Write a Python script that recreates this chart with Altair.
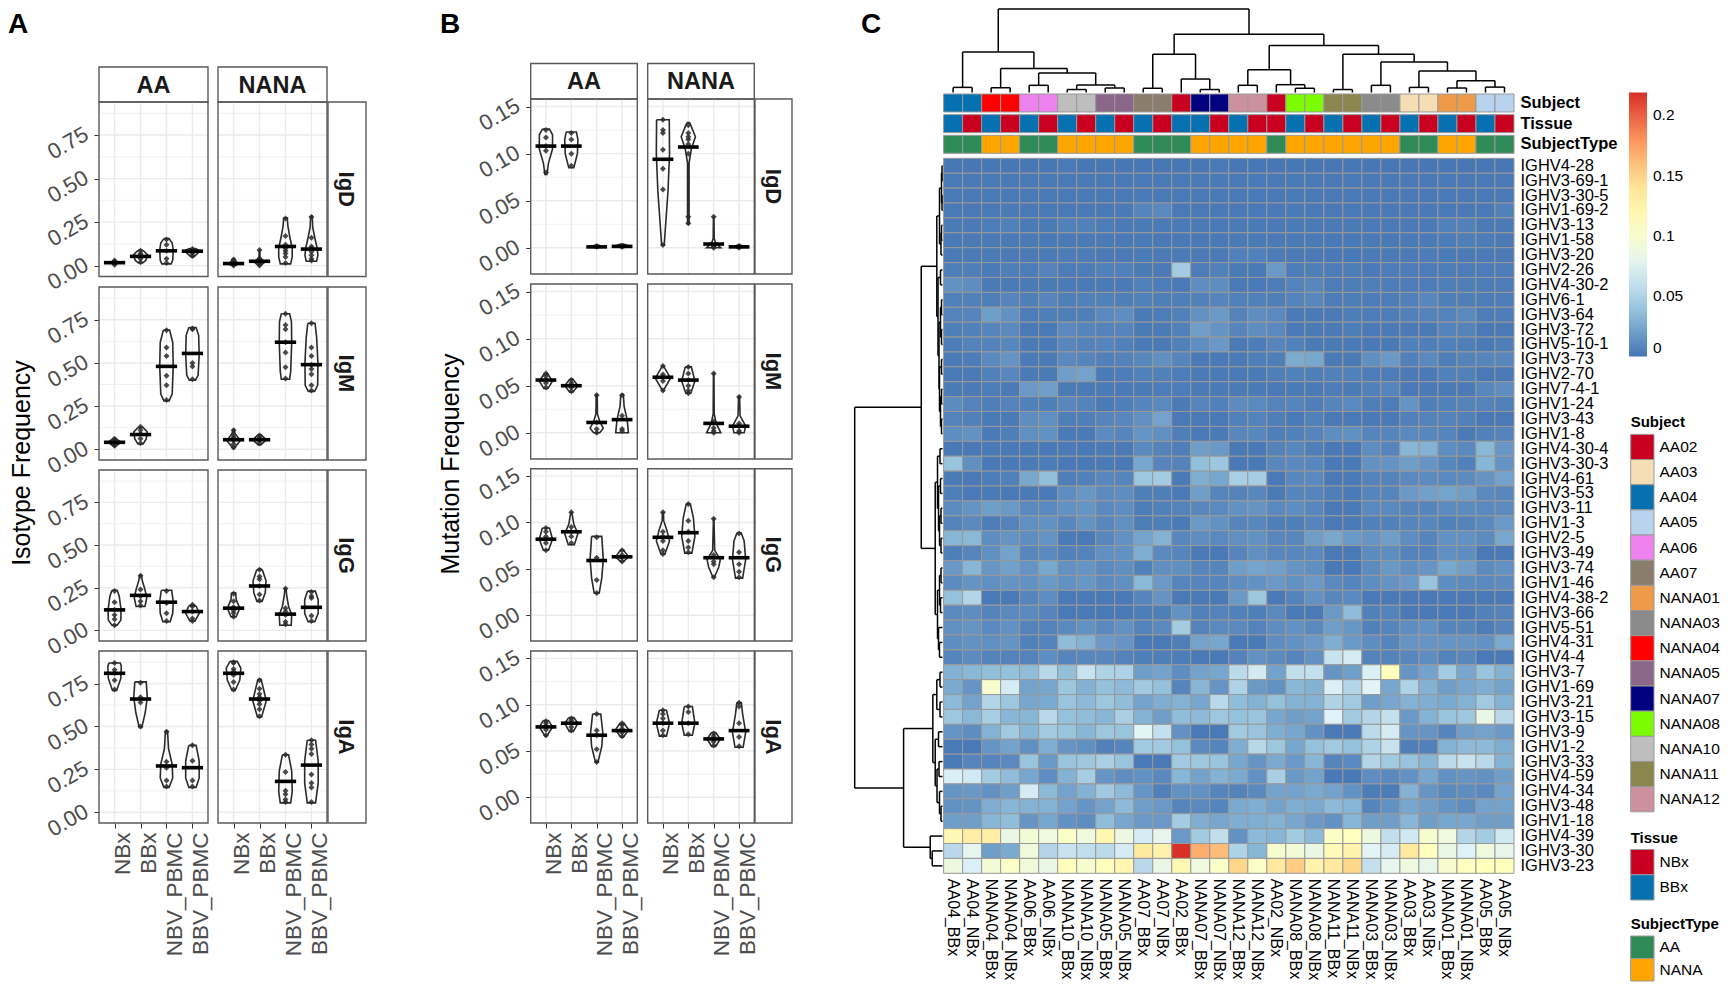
import altair as alt
import pandas as pd

W, H = 1714, 974
FONT = "Liberation Sans"
CATS = ["NBx", "BBx", "NBV_PBMC", "BBV_PBMC"]

# violins: (median, dots, outline as (value, half width))
A_AA_IgD = [
    (.017, [.005, .015, .02, .03], [(.003, 0), (.017, .14), (.032, 0)]),
    (.053, [.02, .04, .06, .07, .085], [(.015, .08), (.03, .2), (.06, .28), (.08, .15), (.09, .05)]),
    (.085, [.015, .04, .085, .12, .15], [(.01, .18), (.03, .24), (.09, .26), (.13, .22), (.155, .1)]),
    (.083, [.055, .07, .08, .09, .095], [(.05, .05), (.07, .2), (.085, .28), (.098, .12)]),
]
A_NANA_IgD = [
    (.012, [0, .005, .01, .02, .035], [(0, .02), (.01, .24), (.02, .12), (.04, .03)]),
    (.025, [0, .01, .02, .03, .035, .09], [(0, .03), (.02, .2), (.035, .1), (.05, .02), (.09, .01)]),
    (.11, [.015, .05, .07, .085, .1, .12, .17, .27], [(.01, .2), (.05, .26), (.1, .26), (.17, .16), (.23, .09), (.275, .07)]),
    (.095, [.03, .04, .06, .08, .1, .11, .16, .28], [(.025, .2), (.06, .25), (.1, .22), (.16, .13), (.22, .05), (.285, .03)]),
]
A_AA_IgM = [
    (.04, [.02, .03, .04, .05, .06], [(.015, .02), (.04, .25), (.065, .02)]),
    (.085, [.035, .06, .09, .11, .13], [(.03, .1), (.06, .22), (.1, .26), (.125, .1)]),
    (.48, [.285, .37, .425, .54, .59, .69], [(.28, .1), (.32, .22), (.48, .26), (.62, .24), (.69, .12)]),
    (.555, [.405, .48, .5, .695, .7], [(.4, .12), (.43, .22), (.55, .26), (.66, .24), (.705, .14)]),
]
A_NANA_IgM = [
    (.055, [.01, .03, .05, .06, .07, .085, .11], [(.005, .02), (.05, .26), (.09, .06), (.115, .02)]),
    (.055, [.035, .05, .06, .07, .08], [(.025, .05), (.055, .26), (.085, .05)]),
    (.62, [.41, .475, .56, .62, .695, .72, .785], [(.405, .16), (.45, .2), (.62, .24), (.74, .23), (.785, .16)]),
    (.49, [.34, .37, .435, .465, .49, .54, .59, .73], [(.335, .12), (.37, .24), (.5, .25), (.65, .2), (.73, .14)]),
]
A_AA_IgG = [
    (.12, [.03, .065, .09, .12, .165, .23], [(.03, .1), (.06, .24), (.12, .25), (.2, .18), (.235, .1)]),
    (.205, [.145, .17, .2, .24, .32], [(.14, .17), (.19, .24), (.24, .17), (.29, .07), (.325, .03)]),
    (.165, [.055, .1, .16, .23], [(.05, .14), (.1, .24), (.17, .26), (.235, .2)]),
    (.11, [.055, .07, .11, .14, .15], [(.055, .1), (.1, .26), (.14, .15), (.15, .05)]),
]
A_NANA_IgG = [
    (.13, [.08, .1, .115, .135, .17, .215], [(.08, .1), (.13, .24), (.18, .1), (.22, .08)]),
    (.26, [.175, .21, .26, .3, .315, .355], [(.17, .1), (.22, .22), (.29, .25), (.35, .12), (.36, .06)]),
    (.095, [.035, .05, .09, .11, .13, .245], [(.03, .22), (.09, .24), (.14, .12), (.2, .05), (.245, .02)]),
    (.135, [.055, .085, .19, .2, .225], [(.05, .13), (.1, .26), (.18, .26), (.23, .15)]),
]
A_AA_IgA = [
    (.81, [.715, .77, .81, .83, .87], [(.71, .08), (.78, .24), (.85, .26), (.87, .22)]),
    (.66, [.5, .64, .67, .755], [(.495, .05), (.58, .18), (.67, .26), (.76, .22)]),
    (.27, [.15, .185, .26, .295, .47], [(.145, .1), (.2, .24), (.28, .22), (.37, .08), (.475, .04)]),
    (.26, [.15, .185, .3, .39], [(.145, .14), (.2, .26), (.3, .26), (.39, .14)]),
]
A_NANA_IgA = [
    (.81, [.715, .76, .8, .82, .835, .87, .875], [(.71, .06), (.77, .24), (.84, .28), (.88, .14)]),
    (.66, [.56, .6, .63, .65, .67, .69, .72, .77], [(.555, .08), (.65, .26), (.72, .15), (.775, .06)]),
    (.18, [.06, .075, .105, .125, .235, .335], [(.055, .2), (.12, .26), (.24, .24), (.335, .12)]),
    (.275, [.06, .145, .17, .22, .34, .37, .395, .42], [(.055, .16), (.17, .26), (.3, .26), (.42, .16)]),
]
B_AA_IgD = [
    (.108, [.08, .103, .108, .117, .125], [(.078, .04), (.09, .1), (.105, .26), (.12, .26), (.126, .14)]),
    (.108, [.087, .1, .115, .122], [(.085, .1), (.1, .24), (.115, .26), (.123, .2)]),
    (.001, [.001, .002], [(0, .05), (.001, .28), (.003, .05)]),
    (.0015, [.001, .002], [(0, .05), (.002, .28), (.004, .05)]),
]
B_NANA_IgD = [
    (.094, [.003, .062, .084, .104, .122, .125, .136], [(.003, .05), (.06, .2), (.1, .26), (.136, .25)]),
    (.107, [.026, .033, .1, .11, .115, .118, .122, .13], [(.025, .03), (.09, .03), (.105, .12), (.118, .28), (.13, .1), (.133, .05)]),
    (.004, [0, .001, .002, .033], [(0, .28), (.005, .08), (.01, .02), (.033, .01)]),
    (.001, [0, .001, .002], [(0, .05), (.001, .28), (.003, .04)]),
]
B_AA_IgM = [
    (.056, [.048, .053, .056, .06, .063], [(.047, .08), (.055, .26), (.063, .06)]),
    (.05, [.044, .048, .05, .053, .056], [(.043, .06), (.05, .26), (.057, .06)]),
    (.011, [0, .004, .011, .04], [(0, .12), (.005, .26), (.012, .12), (.02, .03), (.041, .02)]),
    (.014, [.002, .004, .018, .04], [(0, .25), (.014, .2), (.028, .08), (.041, .05)]),
]
B_NANA_IgM = [
    (.059, [.045, .055, .059, .062, .071], [(.045, .02), (.058, .3), (.071, .02)]),
    (.056, [.042, .045, .05, .056, .063, .07], [(.042, .1), (.055, .26), (.07, .12)]),
    (.01, [0, .002, .005, .012, .063], [(0, .28), (.01, .1), (.02, .02), (.063, .01)]),
    (.007, [0, .002, .007, .01, .038], [(0, .2), (.007, .26), (.018, .04), (.039, .02)]),
]
B_AA_IgG = [
    (.082, [.07, .078, .085, .09, .094], [(.07, .1), (.082, .26), (.094, .14)]),
    (.09, [.078, .085, .09, .095, .111], [(.076, .12), (.088, .26), (.098, .1), (.111, .02)]),
    (.059, [.024, .038, .062, .084], [(.024, .1), (.04, .2), (.06, .26), (.085, .2)]),
    (.063, [.058, .062, .065, .07], [(.058, .06), (.063, .26), (.07, .06)]),
]
B_NANA_IgG = [
    (.084, [.066, .07, .08, .085, .09, .111], [(.066, .08), (.08, .26), (.092, .15), (.102, .03), (.111, .02)]),
    (.089, [.068, .073, .08, .09, .102, .12], [(.067, .14), (.085, .26), (.105, .2), (.12, .08)]),
    (.062, [.041, .055, .058, .065, .104], [(.041, .03), (.052, .2), (.06, .26), (.07, .04), (.104, .01)]),
    (.062, [.041, .047, .055, .068, .088], [(.04, .14), (.06, .26), (.08, .2), (.089, .08)]),
]
B_AA_IgA = [
    (.076, [.067, .073, .077, .08, .082], [(.066, .03), (.076, .26), (.083, .1)]),
    (.08, [.072, .076, .08, .083, .085], [(.071, .08), (.08, .26), (.086, .1)]),
    (.067, [.038, .052, .067, .072, .09], [(.038, .05), (.055, .2), (.07, .24), (.09, .16)]),
    (.072, [.066, .07, .074, .078, .08], [(.065, .05), (.073, .26), (.08, .08)]),
]
B_NANA_IgA = [
    (.08, [.067, .072, .08, .085, .09, .094], [(.066, .14), (.08, .26), (.094, .14)]),
    (.08, [.068, .08, .092, .098], [(.067, .16), (.08, .26), (.098, .16)]),
    (.063, [.056, .06, .063, .066, .069], [(.055, .08), (.063, .26), (.07, .08)]),
    (.072, [.055, .065, .08, .098, .102], [(.054, .16), (.07, .26), (.09, .14), (.102, .09)]),
]

SAMPLES = ["AA04_BBx", "AA04_NBx", "NANA04_BBx", "NANA04_NBx", "AA06_BBx", "AA06_NBx", "NANA10_BBx", "NANA10_NBx",
           "NANA05_BBx", "NANA05_NBx", "AA07_BBx", "AA07_NBx", "AA02_BBx", "NANA07_BBx", "NANA07_NBx", "NANA12_BBx",
           "NANA12_NBx", "AA02_NBx", "NANA08_BBx", "NANA08_NBx", "NANA11_BBx", "NANA11_NBx", "NANA03_BBx", "NANA03_NBx",
           "AA03_BBx", "AA03_NBx", "NANA01_BBx", "NANA01_NBx", "AA05_BBx", "AA05_NBx"]
GENES = ["IGHV4-28", "IGHV3-69-1", "IGHV3-30-5", "IGHV1-69-2", "IGHV3-13", "IGHV1-58", "IGHV3-20", "IGHV2-26",
         "IGHV4-30-2", "IGHV6-1", "IGHV3-64", "IGHV3-72", "IGHV5-10-1", "IGHV3-73", "IGHV2-70", "IGHV7-4-1",
         "IGHV1-24", "IGHV3-43", "IGHV1-8", "IGHV4-30-4", "IGHV3-30-3", "IGHV4-61", "IGHV3-53", "IGHV3-11",
         "IGHV1-3", "IGHV2-5", "IGHV3-49", "IGHV3-74", "IGHV1-46", "IGHV4-38-2", "IGHV3-66", "IGHV5-51",
         "IGHV4-31", "IGHV4-4", "IGHV3-7", "IGHV1-69", "IGHV3-21", "IGHV3-15", "IGHV3-9", "IGHV1-2",
         "IGHV3-33", "IGHV4-59", "IGHV4-34", "IGHV3-48", "IGHV1-18", "IGHV4-39", "IGHV3-30", "IGHV3-23"]

# frequencies x 1000, one row per gene
HEAT = [
    [1, 1, 1, 1, 1, 1, 2, 1, 1, 1, 1, 1, 1, 1, 2, 1, 1, 1, 1, 1, 1, 1, 1, 1, 1, 1, 1, 1, 1, 1],
    [2, 2, 2, 2, 2, 2, 2, 2, 2, 2, 2, 2, 2, 2, 3, 2, 2, 2, 2, 2, 2, 2, 2, 2, 2, 2, 2, 2, 2, 2],
    [2, 2, 2, 2, 2, 2, 2, 2, 2, 2, 2, 2, 2, 2, 2, 2, 2, 2, 2, 2, 2, 2, 2, 2, 2, 2, 2, 2, 2, 2],
    [2, 2, 2, 3, 2, 2, 2, 2, 2, 3, 8, 10, 2, 2, 2, 2, 2, 2, 3, 2, 2, 2, 2, 2, 2, 2, 2, 2, 2, 6],
    [3, 3, 4, 6, 3, 3, 6, 6, 4, 3, 3, 3, 3, 3, 2, 3, 3, 3, 3, 3, 3, 3, 3, 3, 3, 3, 6, 6, 3, 3],
    [2, 3, 3, 3, 3, 2, 3, 3, 3, 3, 3, 2, 2, 2, 2, 3, 3, 3, 3, 3, 2, 2, 3, 2, 3, 3, 4, 5, 4, 3],
    [3, 3, 3, 3, 3, 3, 4, 4, 3, 3, 3, 3, 3, 3, 3, 6, 6, 4, 3, 3, 2, 2, 3, 3, 3, 4, 3, 3, 3, 3],
    [5, 5, 3, 5, 4, 7, 4, 4, 6, 6, 3, 3, 45, 4, 6, 3, 3, 18, 4, 5, 4, 4, 3, 4, 4, 4, 4, 4, 4, 4],
    [14, 12, 3, 3, 3, 3, 3, 3, 3, 3, 6, 4, 2, 12, 12, 2, 2, 4, 7, 9, 4, 4, 5, 4, 4, 4, 5, 5, 4, 4],
    [6, 6, 5, 8, 5, 8, 5, 6, 6, 5, 6, 5, 5, 6, 8, 6, 6, 5, 7, 9, 4, 4, 4, 4, 6, 9, 5, 5, 4, 4],
    [7, 8, 20, 14, 4, 5, 5, 5, 10, 12, 3, 4, 6, 14, 18, 7, 12, 10, 3, 3, 3, 4, 4, 4, 6, 7, 7, 10, 4, 4],
    [5, 6, 8, 10, 2, 2, 10, 8, 7, 8, 3, 3, 6, 20, 15, 8, 12, 10, 2, 3, 3, 4, 3, 3, 3, 3, 7, 7, 2, 2],
    [4, 7, 7, 9, 3, 3, 9, 7, 8, 6, 3, 3, 6, 12, 18, 3, 4, 8, 6, 3, 3, 3, 2, 2, 6, 5, 6, 5, 3, 5],
    [3, 4, 10, 15, 3, 3, 10, 8, 6, 7, 9, 13, 8, 2, 2, 3, 5, 5, 27, 25, 3, 3, 13, 18, 6, 10, 5, 7, 8, 9],
    [2, 3, 6, 9, 3, 3, 20, 22, 3, 4, 6, 6, 4, 3, 3, 2, 3, 5, 6, 5, 6, 6, 4, 4, 3, 3, 6, 6, 2, 2],
    [3, 3, 4, 3, 18, 20, 3, 3, 3, 3, 3, 4, 4, 3, 3, 3, 3, 2, 3, 3, 4, 3, 6, 8, 2, 3, 3, 3, 9, 12],
    [11, 7, 5, 7, 6, 5, 9, 7, 3, 5, 8, 10, 3, 8, 6, 11, 10, 7, 8, 5, 8, 10, 5, 4, 15, 5, 6, 7, 7, 6],
    [7, 6, 3, 3, 12, 13, 5, 5, 8, 9, 13, 22, 2, 2, 2, 6, 7, 5, 2, 6, 2, 2, 2, 2, 6, 7, 7, 6, 2, 2],
    [12, 14, 3, 5, 13, 14, 3, 3, 11, 8, 16, 13, 5, 2, 3, 9, 9, 5, 6, 8, 12, 13, 8, 8, 10, 9, 8, 3, 6, 7],
    [2, 2, 2, 2, 2, 2, 3, 2, 3, 3, 10, 7, 5, 20, 18, 2, 2, 7, 9, 5, 2, 2, 12, 8, 32, 30, 12, 10, 33, 17],
    [40, 13, 2, 2, 3, 4, 2, 2, 3, 2, 24, 8, 7, 37, 42, 2, 2, 9, 10, 9, 2, 2, 14, 15, 20, 16, 9, 6, 32, 15],
    [3, 2, 4, 6, 25, 37, 5, 6, 9, 8, 42, 45, 3, 28, 24, 48, 46, 2, 9, 10, 2, 2, 7, 7, 10, 11, 10, 11, 15, 22],
    [5, 2, 3, 2, 3, 2, 12, 17, 11, 12, 5, 5, 3, 20, 8, 7, 9, 3, 8, 8, 5, 2, 8, 8, 18, 21, 23, 20, 10, 9],
    [11, 15, 20, 18, 10, 10, 14, 16, 10, 12, 4, 6, 7, 9, 10, 14, 15, 10, 12, 9, 2, 2, 10, 10, 8, 8, 11, 11, 10, 11],
    [7, 10, 4, 7, 13, 14, 9, 15, 9, 13, 4, 5, 3, 18, 14, 8, 9, 5, 5, 8, 2, 2, 6, 6, 8, 9, 6, 7, 10, 18],
    [32, 33, 12, 15, 12, 15, 3, 2, 9, 14, 23, 30, 9, 12, 10, 13, 14, 9, 9, 20, 25, 18, 16, 20, 12, 8, 14, 14, 11, 25],
    [5, 8, 13, 22, 9, 10, 6, 7, 13, 14, 28, 10, 8, 2, 2, 8, 13, 9, 9, 10, 2, 2, 11, 12, 7, 7, 13, 12, 2, 2],
    [18, 32, 17, 21, 15, 25, 14, 16, 11, 13, 6, 13, 13, 8, 8, 20, 23, 21, 16, 13, 2, 2, 11, 18, 13, 16, 25, 20, 11, 14],
    [11, 15, 13, 15, 14, 18, 14, 17, 11, 13, 33, 18, 8, 8, 8, 12, 14, 18, 14, 18, 10, 8, 12, 15, 18, 40, 12, 11, 10, 11],
    [38, 52, 2, 2, 8, 12, 2, 2, 2, 2, 8, 15, 2, 2, 2, 18, 42, 2, 7, 14, 9, 10, 2, 2, 2, 2, 2, 2, 2, 2],
    [10, 12, 7, 10, 10, 8, 2, 2, 2, 2, 4, 5, 14, 6, 7, 6, 5, 10, 2, 2, 18, 35, 6, 7, 2, 2, 2, 2, 6, 7],
    [13, 16, 10, 14, 7, 7, 10, 14, 10, 14, 7, 10, 45, 7, 10, 10, 7, 12, 14, 10, 20, 17, 6, 8, 12, 14, 8, 8, 4, 8],
    [12, 14, 13, 15, 6, 7, 35, 30, 18, 16, 2, 2, 5, 22, 24, 2, 3, 12, 14, 18, 28, 18, 12, 8, 16, 16, 16, 16, 14, 26],
    [8, 11, 7, 7, 7, 12, 8, 9, 9, 7, 5, 5, 4, 2, 2, 7, 14, 11, 8, 14, 62, 68, 7, 7, 9, 12, 7, 9, 2, 2],
    [30, 33, 37, 38, 36, 55, 37, 62, 50, 50, 20, 22, 12, 22, 24, 56, 67, 22, 58, 60, 16, 20, 70, 110, 16, 22, 45, 24, 40, 30],
    [26, 16, 100, 68, 22, 24, 42, 30, 38, 34, 44, 38, 8, 32, 16, 50, 18, 14, 33, 30, 70, 52, 75, 24, 50, 30, 20, 24, 28, 22],
    [34, 22, 52, 42, 24, 26, 40, 34, 42, 36, 22, 28, 30, 24, 55, 36, 30, 38, 30, 30, 50, 44, 20, 24, 30, 28, 26, 30, 44, 30],
    [42, 33, 47, 32, 32, 55, 38, 36, 32, 48, 30, 20, 36, 34, 42, 38, 40, 24, 20, 22, 72, 44, 52, 60, 18, 30, 40, 42, 85, 55],
    [16, 12, 30, 44, 32, 44, 40, 32, 42, 40, 75, 60, 14, 2, 2, 44, 40, 28, 24, 14, 2, 2, 56, 68, 16, 16, 8, 20, 22, 18],
    [2, 2, 16, 22, 13, 28, 16, 13, 6, 8, 44, 44, 38, 10, 8, 28, 54, 42, 24, 38, 44, 38, 50, 62, 5, 6, 30, 34, 34, 28],
    [2, 8, 8, 10, 40, 18, 40, 42, 48, 40, 2, 2, 44, 42, 40, 24, 16, 26, 18, 32, 8, 10, 52, 44, 40, 32, 56, 62, 55, 30],
    [70, 66, 45, 36, 24, 12, 30, 46, 16, 12, 14, 10, 32, 22, 30, 26, 14, 48, 18, 22, 2, 2, 12, 10, 14, 24, 14, 16, 14, 20],
    [16, 18, 14, 20, 68, 34, 22, 30, 44, 34, 16, 6, 14, 14, 8, 7, 10, 22, 22, 26, 22, 14, 4, 4, 30, 16, 10, 12, 10, 22],
    [14, 15, 28, 32, 30, 30, 22, 16, 22, 34, 20, 18, 8, 10, 8, 26, 28, 22, 28, 26, 34, 32, 8, 14, 24, 20, 16, 12, 22, 22],
    [20, 20, 32, 36, 16, 24, 14, 12, 36, 24, 18, 18, 45, 28, 24, 28, 28, 30, 24, 18, 14, 32, 20, 20, 32, 20, 24, 24, 20, 20],
    [118, 130, 130, 85, 95, 90, 105, 90, 120, 88, 68, 80, 18, 44, 58, 14, 34, 32, 44, 34, 105, 110, 88, 58, 65, 100, 90, 52, 45, 65],
    [55, 80, 20, 26, 92, 52, 62, 58, 56, 68, 135, 125, 219, 168, 162, 50, 32, 100, 95, 85, 115, 125, 75, 68, 135, 110, 85, 72, 90, 82],
    [88, 70, 95, 105, 92, 85, 112, 100, 112, 120, 55, 85, 118, 90, 105, 150, 105, 135, 155, 125, 135, 150, 60, 80, 90, 82, 100, 108, 110, 112],
]

SUBJECTS = ["AA02", "AA03", "AA04", "AA05", "AA06", "AA07", "NANA01", "NANA03", "NANA04", "NANA05", "NANA07", "NANA08", "NANA10", "NANA11", "NANA12"]
SUBJECT_COLORS = ["#CA0020", "#F5DEB3", "#0571B0", "#B9D3EE", "#EE82EE", "#8B7D6B", "#EE9A49", "#8B8B8B", "#FF0000", "#8B668B", "#000080", "#7CFC00", "#BEBEBE", "#8B864E", "#CD919E"]
TISSUES = ["NBx", "BBx"]
TISSUE_COLORS = ["#CA0020", "#0571B0"]
TYPES = ["AA", "NANA"]
TYPE_COLORS = ["#2E8B57", "#FFA500"]
HEAT_STOPS = [0, .0365, .073, .1095, .146, .1825, .219]
HEAT_COLORS = ["#4575B4", "#91BFDB", "#E0F3F8", "#FFFFBF", "#FEE090", "#FC8D59", "#D73027"]

# dendrograms: (height, left, right); integers are leaves
COL_TREE = (93,
    (45, (5.7, 0, 1), (26.7, (5.3, 2, 3), (21.7, (8, 4, 5), (8.3, (3.3, 6, 7), (5, 8, 9))))),
    (65, (42.7, (4.7, 10, 11), (15, 12, (3.3, 13, 14))),
     (52.3, (25.3, (8, 15, 16), (8.7, 17, (4.7, 18, 19))),
      (42.7, (3.3, 20, 21), (34, (8, 22, 23), (24, (5.7, 24, 25), (13, (5, 26, 27), (6, 28, 29))))))))
ROW_TREE = (88,
    (21.3,
     (5.7, (3, (1, (.5, 0, 1), (.5, 2, 3)), (1.5, (1, 4, 5), 6)),
      (4.5, (2, 7, 8), (3.5, (2, (1, 9, 10), (1, 11, 12)), (3, (1, 13, 14), (2, (1, 15, 16), (1, 17, 18)))))),
     (7.3,
      (5, (2.5, 19, 20), (4, (2, 21, 22), (3, (1.5, 23, 24), (1.5, 25, 26)))),
      (5, (3, (1.5, 27, 28), (2, 29, 30)), (4, 31, (3, 32, 33))))),
    (39,
     (9.7, (5.7, (2.5, 34, 35), (2.5, 36, 37)),
      (7.3, (4, 38, 39), (5.5, (3.5, 40, 41), (3, 42, (1.5, 43, 44))))),
     (12.3, 45, (10.3, 46, 47))))

ONE = pd.DataFrame({"a": [1]})


def frame(x0, y0, x1, y1, color="#5A5A5A", width=1.4):
    return alt.Chart(ONE).mark_rect(fillOpacity=0, stroke=color, strokeWidth=width).encode(
        x=alt.value(x0 - 8), x2=alt.value(x1 - 8), y=alt.value(y0 - 8), y2=alt.value(y1 - 8))


def label(txt, x, y, size, bold=False, angle=0, align="center", color="#000000"):
    return alt.Chart(pd.DataFrame({"t": [txt]})).mark_text(
        fontSize=size, fontWeight="bold" if bold else "normal", angle=angle, align=align,
        baseline="middle", color=color, font=FONT).encode(
        x=alt.value(x - 8), y=alt.value(y - 8), text="t:N")


def panel(rows, x0, x1, y0, y1, domain, major, minor, show_x, show_y):
    xs = alt.Scale(domain=[.4, 4.6], range=[x0 - 8, x1 - 8], nice=False, zero=False)
    ys = alt.Scale(domain=domain, range=[y1 - 8, y0 - 8], nice=False, zero=False)
    grid = []
    for v in major:
        grid.append(dict(a=.4, b=4.6, c=v, d=v, w=1.4))
    for v in minor:
        grid.append(dict(a=.4, b=4.6, c=v, d=v, w=.7))
    for i in range(1, 5):
        grid.append(dict(a=i, b=i, c=domain[0], d=domain[1], w=1.4))
    x_axis = None
    if show_x:
        x_axis = alt.Axis(orient="bottom", offset=-(H - (y1 - 8)), values=[1, 2, 3, 4], title=None, grid=False,
                          labelExpr="['NBx','BBx','NBV_PBMC','BBV_PBMC'][datum.value-1]", labelAngle=270,
                          labelAlign="right", labelBaseline="middle", labelFontSize=22.5, labelColor="#4D4D4D",
                          labelPadding=4, labelOffset=8, labelLimit=400, tickSize=5, tickColor="#333333", domain=False,
                          labelOverlap=False, labelFlush=False)
    y_axis = None
    if show_y:
        y_axis = alt.Axis(orient="left", offset=-(x0 - 8), values=major, title=None, grid=False, format=".2f",
                          labelAngle=330, labelAlign="right", labelBaseline="middle", labelFontSize=22,
                          labelColor="#4D4D4D", labelPadding=8, labelOffset=-3, tickSize=5, tickColor="#333333",
                          domain=False, labelOverlap=False, labelFlush=False)
    layers = [alt.Chart(pd.DataFrame(grid)).mark_rule(color="#EBEBEB").encode(
        x=alt.X("a:Q", scale=xs, axis=x_axis), x2="b:Q",
        y=alt.Y("c:Q", scale=ys, axis=y_axis), y2="d:Q",
        strokeWidth=alt.StrokeWidth("w:Q", scale=None))]
    lines, dots, meds = [], [], []
    for i, (med, pts, out) in enumerate(rows):
        c = i + 1
        ring = [(v, c - w) for v, w in reversed(out)] + [(v, c + w) for v, w in out]
        ring.append(ring[0])
        for k, (v, x) in enumerate(ring):
            lines.append(dict(id=i, k=k, x=x, y=v))
        for p in pts:
            dots.append(dict(x=c, y=p))
        meds.append(dict(x=c - .41, x2=c + .41, y=med))
    layers.append(alt.Chart(pd.DataFrame(dots)).mark_point(shape="diamond", filled=True, size=36, color="#2A2A2A", opacity=.85).encode(
        x=alt.X("x:Q", scale=xs, axis=None), y=alt.Y("y:Q", scale=ys, axis=None)))
    layers.append(alt.Chart(pd.DataFrame(lines)).mark_line(color="#2A2A2A", strokeWidth=1.6).encode(
        x=alt.X("x:Q", scale=xs, axis=None), y=alt.Y("y:Q", scale=ys, axis=None), detail="id:N", order="k:Q"))
    layers.append(alt.Chart(pd.DataFrame(meds)).mark_rule(color="#000000", strokeWidth=3.6).encode(
        x=alt.X("x:Q", scale=xs, axis=None), x2="x2:Q", y=alt.Y("y:Q", scale=ys, axis=None)))
    return layers


def walk(tree, segs):
    if isinstance(tree, int):
        return tree + .5, 0
    h, left, right = tree
    p0, h0 = walk(left, segs)
    p1, h1 = walk(right, segs)
    segs.append(dict(p0=p0, p1=p1, h0=h, h1=h))
    segs.append(dict(p0=p0, p1=p0, h0=h0, h1=h))
    segs.append(dict(p0=p1, p1=p1, h0=h1, h1=h))
    return (p0 + p1) / 2, h


def swatches(title, names, colors, top, bottom):
    df = pd.DataFrame({"n": names, "c": colors, "k": title})
    rect = alt.Chart(df).mark_rect(stroke="#999999", strokeWidth=1).encode(
        x=alt.X("k:N", scale=alt.Scale(domain=[title], range=[1630.7 - 8, 1654 - 8], paddingInner=0, paddingOuter=0), axis=None),
        y=alt.Y("n:N", sort=None, scale=alt.Scale(domain=names, range=[top - 8, bottom - 8], paddingInner=0, paddingOuter=0),
                axis=alt.Axis(orient="right", offset=-(W - (1654 - 8)), title=None, tickSize=0, domain=False, grid=False,
                              labelPadding=5, labelFontSize=15.5, labelColor="#000000", labelOverlap=False, labelFlush=False)),
        fill=alt.Fill("c:N", scale=None))
    return [rect, label(title, 1630.7, top - 12, 15, bold=True, align="left")]


charts = []

# panels A and B
SETS = [
    dict(cols=[("AA", 99, 208, 0), ("NANA", 218, 327, 1)], strip=(328, 366), top=(67, 102),
         rows=[("IgD", 102, 276.5, A_AA_IgD, A_NANA_IgD), ("IgM", 287, 460, A_AA_IgM, A_NANA_IgM),
               ("IgG", 470, 641, A_AA_IgG, A_NANA_IgG), ("IgA", 651, 823, A_AA_IgA, A_NANA_IgA)],
         domain=[-.0625, .94], major=[0, .25, .5, .75], minor=[.125, .375, .625, .875]),
    dict(cols=[("AA", 530.7, 637.3, 0), ("NANA", 647.7, 754.3, 1)], strip=(755, 792), top=(63.5, 99),
         rows=[("IgD", 99, 274, B_AA_IgD, B_NANA_IgD), ("IgM", 284, 459, B_AA_IgM, B_NANA_IgM),
               ("IgG", 468.7, 641, B_AA_IgG, B_NANA_IgG), ("IgA", 651, 823, B_AA_IgA, B_NANA_IgA)],
         domain=[-.0278, .158], major=[0, .05, .1, .15], minor=[.025, .075, .125]),
]
for s in SETS:
    for name, x0, x1, ci in s["cols"]:
        charts.append(frame(x0, s["top"][0], x1, s["top"][1]))
        charts.append(label(name, (x0 + x1) / 2, sum(s["top"]) / 2 + 1, 23.5, bold=True, color="#1A1A1A"))
        for ri, row in enumerate(s["rows"]):
            iso, y0, y1 = row[:3]
            charts.extend(panel(row[3 + ci], x0, x1, y0, y1, s["domain"], s["major"], s["minor"], ri == 3, ci == 0))
            charts.append(frame(x0, y0, x1, y1))
    for iso, y0, y1, *_ in s["rows"]:
        charts.append(frame(s["strip"][0], y0, s["strip"][1], y1))
        charts.append(label(iso, sum(s["strip"]) / 2 - 1, (y0 + y1) / 2, 22, bold=True, angle=90, color="#1A1A1A"))

charts.append(label("A", 8, 25, 28, bold=True, align="left"))
charts.append(label("B", 440, 25, 28, bold=True, align="left"))
charts.append(label("C", 861, 25, 28, bold=True, align="left"))
charts.append(label("Isotype Frequency", 22, 463, 25, angle=270))
charts.append(label("Mutation Frequency", 451, 464, 25, angle=270))

# panel C
HX0, HX1, HY0, HY1 = 943.6 - 8, 1514 - 8, 158.3 - 8, 873.3 - 8
col_band = alt.Scale(domain=SAMPLES, range=[HX0, HX1], paddingInner=0, paddingOuter=0)
heat_rows = []
for g, row in zip(GENES, HEAT):
    for s, v in zip(SAMPLES, row):
        heat_rows.append(dict(g=g, s=s, v=v / 1000))
heat = alt.Chart(pd.DataFrame(heat_rows)).mark_rect(stroke="#999999", strokeWidth=1).encode(
    x=alt.X("s:N", sort=None, scale=col_band,
            axis=alt.Axis(orient="bottom", offset=-(H - HY1), title=None, tickSize=0, domain=False, grid=False, labelAngle=90,
                          labelAlign="left", labelBaseline="middle", labelFontSize=16, labelPadding=5, labelLimit=400,
                          labelColor="#000000", labelOverlap=False, labelFlush=False)),
    y=alt.Y("g:N", sort=None, scale=alt.Scale(domain=GENES, range=[HY0, HY1], paddingInner=0, paddingOuter=0),
            axis=alt.Axis(orient="right", offset=-(W - HX1), title=None, tickSize=0, domain=False, grid=False, labelFontSize=16.5,
                          labelPadding=6, labelLimit=400, labelColor="#000000", labelOverlap=False, labelFlush=False)),
    color=alt.Color("v:Q", scale=alt.Scale(domain=HEAT_STOPS, range=HEAT_COLORS, interpolate="rgb"),
                    legend=alt.Legend(type="gradient", orient="none", legendX=1629 - 8, legendY=92.4 - 8, title=None,
                                      gradientLength=264, gradientThickness=18, values=[0, .05, .1, .15, .2],
                                      labelFontSize=15.5, labelColor="#000000", labelOffset=6, labelOverlap=False,
                                      gradientStrokeWidth=0, tickCount=5, format="~g")))
charts.append(heat)

ann_rows = []
for s in SAMPLES:
    subj, tis = s.split("_")
    typ = "NANA" if subj.startswith("NANA") else "AA"
    ann_rows.append(dict(s=s, r="Subject", c=SUBJECT_COLORS[SUBJECTS.index(subj)]))
    ann_rows.append(dict(s=s, r="Tissue", c=TISSUE_COLORS[TISSUES.index(tis)]))
    ann_rows.append(dict(s=s, r="SubjectType", c=TYPE_COLORS[TYPES.index(typ)]))
charts.append(alt.Chart(pd.DataFrame(ann_rows)).mark_rect(stroke="#999999", strokeWidth=1).encode(
    x=alt.X("s:N", sort=None, scale=col_band, axis=None),
    y=alt.Y("r:N", sort=None, scale=alt.Scale(domain=["Subject", "Tissue", "SubjectType"], range=[94 - 8, 153.3 - 8], paddingInner=.13, paddingOuter=0),
            axis=alt.Axis(orient="right", offset=-(W - HX1), title=None, tickSize=0, domain=False, grid=False, labelFontSize=16.5,
                          labelFontWeight="bold", labelPadding=6, labelLimit=400, labelColor="#000000", labelOverlap=False, labelFlush=False)),
    fill=alt.Fill("c:N", scale=None)))

segs = []
walk(COL_TREE, segs)
charts.append(alt.Chart(pd.DataFrame(segs)).mark_rule(color="#000000", strokeWidth=1.5).encode(
    x=alt.X("p0:Q", scale=alt.Scale(domain=[0, 30], range=[HX0, HX1], nice=False, zero=False), axis=None), x2="p1:Q",
    y=alt.Y("h0:Q", scale=alt.Scale(domain=[0, 93], range=[92.5 - 8, 9 - 8], nice=False, zero=False), axis=None), y2="h1:Q"))
segs = []
walk(ROW_TREE, segs)
charts.append(alt.Chart(pd.DataFrame(segs)).mark_rule(color="#000000", strokeWidth=1.5).encode(
    y=alt.Y("p0:Q", scale=alt.Scale(domain=[0, 48], range=[HY0, HY1], nice=False, zero=False), axis=None), y2="p1:Q",
    x=alt.X("h0:Q", scale=alt.Scale(domain=[0, 88], range=[942.5 - 8, 854.7 - 8], nice=False, zero=False), axis=None), x2="h1:Q"))

charts.extend(swatches("Subject", SUBJECTS, SUBJECT_COLORS, 434.4, 811.8))
charts.extend(swatches("Tissue", TISSUES, TISSUE_COLORS, 849.5, 900))
charts.extend(swatches("SubjectType", TYPES, TYPE_COLORS, 936, 981))

chart = alt.layer(*charts).resolve_scale(x="independent", y="independent").resolve_axis(
    x="independent", y="independent").properties(
    width=W, height=H, padding=0, autosize=alt.AutoSizeParams(type="none", contains="content")
).configure_view(stroke=None).configure_axis(labelFont=FONT).configure_legend(labelFont=FONT)

chart.save("out.html", embed_options={"renderer": "svg", "actions": False})
